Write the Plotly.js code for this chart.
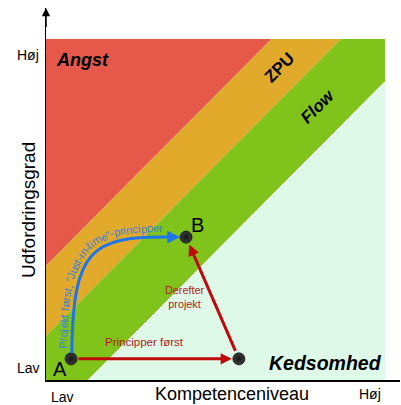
<!DOCTYPE html>
<html>
<head>
<meta charset="utf-8">
<script src="https://cdn.plot.ly/plotly-3.0.1.min.js"></script>
<style>html,body{margin:0;padding:0;background:#fff;}#chart{width:401px;height:405px;}</style>
</head>
<body>
<div id="chart"></div>
<script>
// ---- data ----
const zoneNames = ['Angst', 'ZPU', 'Flow', 'Kedsomhed'];
const zoneColors = ['#E5584A', '#E2AA2B', '#80C31A', '#DFF9E8'];
// boundaries between zones, as (challenge - competence)
const zoneBounds = [3.35, 1.3, -1.25];
const pointNames = ['A', 'B', 'C'];
const pointX = [0.74, 4.13, 5.69];
const pointY = [0.62, 4.19, 0.62];
const xTickLabels = ['Lav', 'Høj'];
const yTickLabels = ['Lav', 'Høj'];
const xTitle = 'Kompetenceniveau';
const yTitle = 'Udfordringsgrad';
const curveText = 'Projekt først, "Just-in-time"-principper';
const redLabel1 = 'Principper først';
const redLabel2 = ['Derefter', 'projekt'];

// ---- layout constants ----
const W = 401, H = 405, ML = 46, MR = 1, MT = 8, MB = 25;
const SX = 33.9, SY = 34.1; // px per unit
const XR = (W - ML - MR) / SX, YR = (H - MT - MB) / SY;
const FONT = '"Liberation Sans", Arial, sans-serif';
const toPx = (x, y) => [ML + x * SX, H - MB - y * SY];
const toData = (px, py) => [(px - ML) / SX, (H - MB - py) / SY];

function clip(poly, f) { // keep f(p) >= 0
  const out = [];
  for (let i = 0; i < poly.length; i++) {
    const a = poly[i], b = poly[(i + 1) % poly.length];
    const fa = f(a), fb = f(b);
    if (fa >= 0) out.push(a);
    if ((fa >= 0) !== (fb >= 0)) {
      const t = fa / (fa - fb);
      out.push([a[0] + t * (b[0] - a[0]), a[1] + t * (b[1] - a[1])]);
    }
  }
  return out;
}
const square = [[0, 0], [10, 0], [10, 10], [0, 10]];
const traces = [];
zoneNames.forEach((n, i) => {
  const hi = i === 0 ? 1e9 : zoneBounds[i - 1];
  const lo = i === zoneNames.length - 1 ? -1e9 : zoneBounds[i];
  let poly = clip(square, p => (p[1] - p[0]) - lo);
  poly = clip(poly, p => hi - (p[1] - p[0]));
  traces.push({
    type: 'scatter', mode: 'lines', fill: 'toself', fillcolor: zoneColors[i],
    x: poly.map(p => p[0]).concat([poly[0][0]]), y: poly.map(p => p[1]).concat([poly[0][1]]),
    line: {width: 0, color: zoneColors[i]}, hoverinfo: 'skip', showlegend: false
  });
});
// thin white seam between Flow and Kedsomhed
{
  const b = zoneBounds[2];
  traces.push({type: 'scatter', mode: 'lines', x: [-b, 10], y: [0, 10 + b],
    line: {color: '#ffffff', width: 1}, hoverinfo: 'skip', showlegend: false});
}
// points
traces.push({
  type: 'scatter', mode: 'markers', x: pointX, y: pointY, hoverinfo: 'skip', showlegend: false,
  marker: {size: 12, color: '#3c3c3c', gradient: {type: 'radial', color: '#141414'}, line: {color: '#0a0a0a', width: 0.8}}
});

const A = [pointX[0], pointY[0]], B = [pointX[1], pointY[1]], C = [pointX[2], pointY[2]];
const RED = '#BF0A0A', BLUE = '#1E74EC';

// blue curve (cubic bezier, data coords)
const P = [[A[0] + 0.02, A[1] + 0.17], [0.80, 3.81], [1.30, 4.22], [B[0] - 0.47, B[1]]];
const shapes = [{
  type: 'path', xref: 'x', yref: 'y', layer: 'above',
  path: `M ${P[0][0]},${P[0][1]} C ${P[1][0]},${P[1][1]} ${P[2][0]},${P[2][1]} ${P[3][0]},${P[3][1]}`,
  line: {color: BLUE, width: 3}
}];

const annotations = [];
function ann(o) { annotations.push(Object.assign({showarrow: false, xref: 'x', yref: 'y'}, o)); }
// label placed by pixel position, in paper coordinates (works outside the plot area)
function annP(px, py, o) {
  annotations.push(Object.assign({showarrow: false, xref: 'paper', yref: 'paper',
    xanchor: 'center', yanchor: 'middle',
    x: (px - ML) / (W - ML - MR), y: (H - MB - py) / (H - MT - MB)}, o));
}

// y axis arrow head
ann({x: 0, y: YR, ax: 0, ay: YR - 0.6, axref: 'x', ayref: 'y', showarrow: true, arrowhead: 2,
  arrowsize: 1.1, arrowwidth: 1.5, arrowcolor: '#000', text: ''});

// red arrows
ann({x: C[0], y: C[1], ax: A[0], ay: A[1], axref: 'x', ayref: 'y', showarrow: true, arrowhead: 2,
  arrowsize: 0.75, arrowwidth: 3, arrowcolor: RED, standoff: 7, startstandoff: 6, text: ''});
ann({x: B[0], y: B[1], ax: C[0], ay: C[1], axref: 'x', ayref: 'y', showarrow: true, arrowhead: 2,
  arrowsize: 0.75, arrowwidth: 3, arrowcolor: RED, standoff: 8, startstandoff: 7, text: ''});
// blue arrow head
ann({x: B[0], y: B[1], ax: B[0] - 0.5, ay: B[1], axref: 'x', ayref: 'y', showarrow: true, arrowhead: 2,
  arrowsize: 0.85, arrowwidth: 3, arrowcolor: BLUE, standoff: 6, text: ''});

// zone labels
ann({x: 1.09, y: 9.38, text: '<b><i>' + zoneNames[0] + '</i></b>', font: {family: FONT, size: 18, color: '#000'}});
ann({x: 6.90, y: 9.15, text: '<b>' + zoneNames[1] + '</b>', textangle: -45, font: {family: FONT, size: 17, color: '#000'}});
ann({x: 8.02, y: 8.01, text: '<b><i>' + zoneNames[2] + '</i></b>', textangle: -45, font: {family: FONT, size: 17, color: '#000'}});
ann({x: 8.23, y: 0.50, text: '<b><i>' + zoneNames[3] + '</i></b>', font: {family: FONT, size: 19.5, color: '#000'}});

// point labels
ann({x: 0.41, y: 0.32, text: pointNames[0], font: {family: FONT, size: 20, color: '#000'}});
ann({x: 4.48, y: 4.55, text: pointNames[1], font: {family: FONT, size: 20, color: '#000'}});

// red labels
ann({x: 2.92, y: 1.11, text: redLabel1, font: {family: FONT, size: 11.5, color: '#B01A1A'}});
ann({x: 4.10, y: 2.42, text: redLabel2.join('<br>'), align: 'center', font: {family: FONT, size: 10.8, color: '#B01A1A'}});

// tick labels & titles (outside plot area -> paper coords)
annP(41, 55, {xanchor: 'right', text: yTickLabels[1], font: {family: FONT, size: 14, color: '#000'}});
annP(42, 368, {xanchor: 'right', text: yTickLabels[0], font: {family: FONT, size: 14, color: '#000'}});
annP(62, 397, {text: xTickLabels[0], font: {family: FONT, size: 14, color: '#000'}});
annP(370, 394, {text: xTickLabels[1], font: {family: FONT, size: 14, color: '#000'}});
annP(28, 210, {text: yTitle, textangle: -90, font: {family: FONT, size: 19, color: '#000'}});
annP(232, 394, {text: xTitle, font: {family: FONT, size: 18, color: '#000'}});

// text along the blue curve
(function () {
  const fs = 11.3, off = 9, s0 = 4;
  const cv = document.createElement('canvas').getContext('2d');
  cv.font = fs + 'px ' + FONT;
  const Pp = P.map(p => toPx(p[0], p[1]));
  const N = 600, pts = [];
  for (let i = 0; i <= N; i++) {
    const t = i / N, u = 1 - t;
    const x = u*u*u*Pp[0][0] + 3*u*u*t*Pp[1][0] + 3*u*t*t*Pp[2][0] + t*t*t*Pp[3][0];
    const y = u*u*u*Pp[0][1] + 3*u*u*t*Pp[1][1] + 3*u*t*t*Pp[2][1] + t*t*t*Pp[3][1];
    const dx = 3*u*u*(Pp[1][0]-Pp[0][0]) + 6*u*t*(Pp[2][0]-Pp[1][0]) + 3*t*t*(Pp[3][0]-Pp[2][0]);
    const dy = 3*u*u*(Pp[1][1]-Pp[0][1]) + 6*u*t*(Pp[2][1]-Pp[1][1]) + 3*t*t*(Pp[3][1]-Pp[2][1]);
    const L = Math.hypot(dx, dy) || 1;
    const tx = dx / L, ty = dy / L;
    pts.push({x: x + ty * off, y: y - tx * off, ang: Math.atan2(ty, tx) * 180 / Math.PI});
  }
  const cum = [0];
  for (let i = 1; i <= N; i++) cum.push(cum[i-1] + Math.hypot(pts[i].x - pts[i-1].x, pts[i].y - pts[i-1].y));
  let s = s0;
  for (const ch of curveText) {
    const w = cv.measureText(ch).width;
    const sc = s + w / 2;
    s += w;
    if (ch === ' ') continue;
    let k = 0;
    while (k < N && cum[k] < sc) k++;
    const p = pts[k];
    const d = toData(p.x, p.y);
    ann({x: d[0], y: d[1], text: ch, textangle: p.ang, xanchor: 'center', yanchor: 'middle',
      font: {family: FONT, size: fs, color: '#3B7FD9'}});
  }
})();

const layout = {
  width: W, height: H,
  margin: {l: ML, r: MR, t: MT, b: MB, pad: 0},
  paper_bgcolor: '#fff', plot_bgcolor: '#fff',
  showlegend: false,
  xaxis: {range: [0, XR], showgrid: false, zeroline: false, showline: true, linecolor: '#000', linewidth: 1.5,
    showticklabels: false, ticks: '', fixedrange: true},
  yaxis: {range: [0, YR], showgrid: false, zeroline: false, showline: true, linecolor: '#000', linewidth: 1.5,
    showticklabels: false, ticks: '', fixedrange: true},
  shapes: shapes,
  annotations: annotations
};
Plotly.newPlot('chart', traces, layout, {displayModeBar: false, staticPlot: true});
</script>
</body>
</html>
